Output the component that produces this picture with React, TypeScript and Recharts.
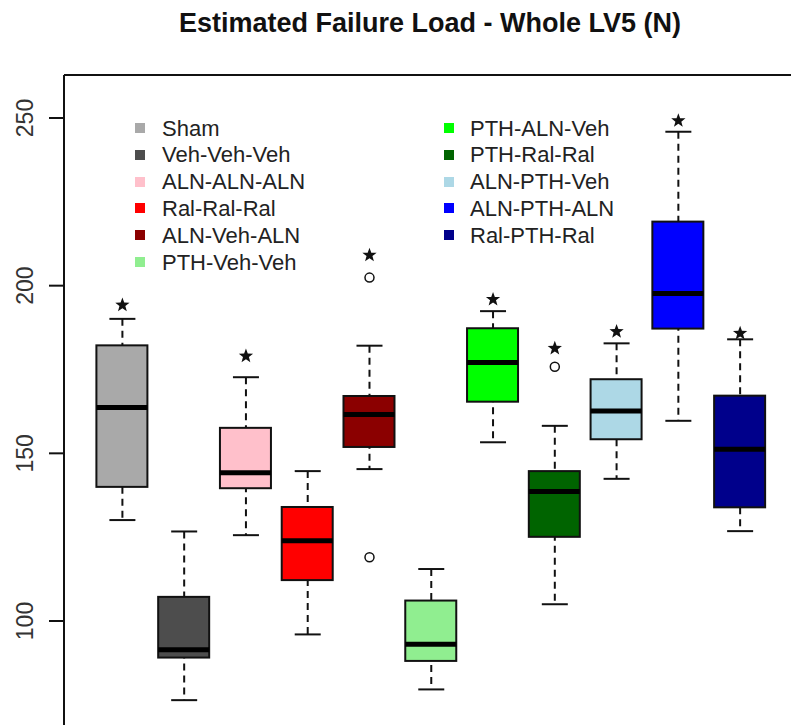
import React from 'react';
import { ComposedChart, Bar, XAxis, YAxis, ReferenceLine } from 'recharts';

// ---------- data ----------
const CATEGORIES = [
  'Sham', 'Veh-Veh-Veh', 'ALN-ALN-ALN', 'Ral-Ral-Ral', 'ALN-Veh-ALN', 'PTH-Veh-Veh',
  'PTH-ALN-Veh', 'PTH-Ral-Ral', 'ALN-PTH-Veh', 'ALN-PTH-ALN', 'Ral-PTH-Ral',
];
const LOWER_WHISKER = [130.1, 76.4, 125.6, 96.0, 145.3, 79.6, 153.3, 105.0, 142.4, 159.7, 126.8];
const Q1 = [140.0, 89.1, 139.6, 112.2, 151.9, 88.1, 165.4, 125.1, 154.2, 187.2, 133.9];
const MEDIAN = [163.7, 91.4, 144.2, 123.9, 161.6, 93.1, 177.1, 138.6, 162.6, 197.7, 151.2];
const Q3 = [182.2, 107.2, 157.6, 134.0, 167.1, 106.1, 187.3, 144.7, 172.1, 219.1, 167.2];
const UPPER_WHISKER = [190.1, 126.7, 172.7, 144.7, 182.1, 115.5, 192.4, 158.2, 182.8, 245.9, 184.0];
const UPPER_OUTLIER: (number | null)[] = [null, null, null, null, 202.4, null, null, 175.8, null, null, null];
const LOWER_OUTLIER: (number | null)[] = [null, null, null, null, 119.0, null, null, null, null, null, null];
const STAR_POSITION: (number | null)[] = [194.2, null, 179.0, null, 209.1, null, 195.9, 181.3, 186.3, 249.2, 185.8];
const Y_TICKS = [100, 150, 200, 250];
const Y_DOMAIN: [number, number] = [68.99, 262.82];
const TITLE = 'Estimated Failure Load - Whole LV5 (N)';

// ---------- style ----------
const COLORS = [
  '#A9A9A9', '#4D4D4D', '#FFC0CB', '#FF0000', '#8B0000', '#90EE90',
  '#00FF00', '#006400', '#ADD8E6', '#0000FF', '#00008B',
];
const FONT = "'Liberation Sans', Arial, Helvetica, sans-serif";
const AXIS_PAD = { left: 27.4, right: 20.1 };

const rows = CATEGORIES.map((name, i) => ({
  name,
  lo: LOWER_WHISKER[i],
  q1: Q1[i],
  med: MEDIAN[i],
  q3: Q3[i],
  hi: UPPER_WHISKER[i],
  outHi: UPPER_OUTLIER[i],
  outLo: LOWER_OUTLIER[i],
  star: STAR_POSITION[i],
}));

const ok = (v: any) => typeof v === 'number' && isFinite(v);

const WhiskerShape = (props: any) => {
  const { x, y, width, height } = props;
  if (!ok(x) || !ok(y) || !ok(height)) return <g />;
  const cx = x + width / 2;
  const top = Math.min(y, y + height);
  const bot = Math.max(y, y + height);
  return (
    <g>
      <line x1={cx} x2={cx} y1={top} y2={bot} stroke="#111" strokeWidth={2} strokeDasharray="7 5" />
      <line x1={x} x2={x + width} y1={top} y2={top} stroke="#111" strokeWidth={2} />
      <line x1={x} x2={x + width} y1={bot} y2={bot} stroke="#111" strokeWidth={2} />
    </g>
  );
};

const BoxShape = (props: any) => {
  const { x, y, width, height, payload } = props;
  if (!ok(x) || !ok(y) || !ok(height)) return <g />;
  const top = Math.min(y, y + height);
  const h = Math.abs(height);
  const idx = CATEGORIES.indexOf(payload?.name);
  return <rect x={x} y={top} width={width} height={h} fill={COLORS[idx]} stroke="#111" strokeWidth={2} />;
};

const MedianShape = (props: any) => {
  const { x, y, width } = props;
  if (!ok(x) || !ok(y)) return <g />;
  return <line x1={x} x2={x + width} y1={y} y2={y} stroke="#000" strokeWidth={5} />;
};

const OutlierShape = (key: 'outHi' | 'outLo') => (props: any) => {
  const { x, y, width, payload } = props;
  if (!payload || payload[key] == null || !ok(x) || !ok(y)) return <g />;
  return <circle cx={x + width / 2} cy={y} r={4.5} fill="#fff" stroke="#111" strokeWidth={1.5} />;
};

const StarShape = (props: any) => {
  const { x, y, width, payload } = props;
  if (!payload || payload.star == null || !ok(x) || !ok(y)) return <g />;
  const cx = x + width / 2;
  const R = 7.5, r = 3.1;
  const pts: string[] = [];
  for (let k = 0; k < 10; k++) {
    const rad = k % 2 === 0 ? R : r;
    const a = -Math.PI / 2 + (k * Math.PI) / 5;
    pts.push(`${cx + rad * Math.cos(a)},${y + rad * Math.sin(a)}`);
  }
  return <polygon points={pts.join(' ')} fill="#111" />;
};

const YTick = (props: any) => {
  const { y, payload } = props;
  return (
    <text
      x={0}
      y={0}
      transform={`translate(33,${y}) rotate(-90)`}
      textAnchor="middle"
      fontSize={23}
      fontFamily={FONT}
      fill="#333"
    >
      {payload.value}
    </text>
  );
};

const pointRange = (key: string) => (d: any) => (d[key] == null ? null : [d[key], d[key]]);

const LEGEND_ROW0 = 129;
const LEGEND_STEP = 26.8;
const legendCols = [
  { start: 0, count: 6, sq: 135, tx: 162 },
  { start: 6, count: 5, sq: 444, tx: 470 },
];

export default function App() {
  const axisIds = ['w', 'b', 'm', 'oh', 'ol', 's'];
  return (
    <div style={{ position: 'absolute', left: 0, top: 0, width: 791, height: 725, overflow: 'hidden', background: '#fff' }}>
      <ComposedChart
        width={791}
        height={725}
        data={rows}
        margin={{ top: 75, right: 0, bottom: 0, left: 0 }}
      >
        {axisIds.map((id) => (
          <XAxis key={id} xAxisId={id} type="category" dataKey="name" hide padding={AXIS_PAD} />
        ))}
        <XAxis xAxisId={0} type="category" dataKey="name" hide padding={AXIS_PAD} />
        <YAxis
          type="number"
          domain={Y_DOMAIN}
          allowDataOverflow
          ticks={Y_TICKS}
          width={64}
          tickSize={15}
          tickLine={{ stroke: '#111', strokeWidth: 2 }}
          axisLine={{ stroke: '#111', strokeWidth: 2 }}
          tick={<YTick />}
          interval={0}
        />
        <Bar xAxisId="w" dataKey={(d: any) => [d.lo, d.hi]} barSize={26} shape={WhiskerShape} isAnimationActive={false} />
        <Bar xAxisId="b" dataKey={(d: any) => [d.q1, d.q3]} barSize={51} shape={BoxShape} isAnimationActive={false} />
        <Bar xAxisId="m" dataKey={pointRange('med')} barSize={51} shape={MedianShape} isAnimationActive={false} />
        <Bar xAxisId="oh" dataKey={pointRange('outHi')} barSize={12} shape={OutlierShape('outHi')} isAnimationActive={false} />
        <Bar xAxisId="ol" dataKey={pointRange('outLo')} barSize={12} shape={OutlierShape('outLo')} isAnimationActive={false} />
        <Bar xAxisId="s" dataKey={pointRange('star')} barSize={16} shape={StarShape} isAnimationActive={false} />
        <ReferenceLine xAxisId={0} y={Y_DOMAIN[1]} stroke="#111" strokeWidth={2} />
      </ComposedChart>

      <div
        style={{
          position: 'absolute', left: 0, top: 10, width: 860, textAlign: 'center',
          fontFamily: FONT, fontWeight: 'bold', fontSize: 27, lineHeight: '27px', color: '#111',
          whiteSpace: 'nowrap',
        }}
      >
        {TITLE}
      </div>

      {legendCols.map((col) =>
        CATEGORIES.slice(col.start, col.start + col.count).map((name, j) => {
          const cy = LEGEND_ROW0 + j * LEGEND_STEP;
          const idx = col.start + j;
          return (
            <React.Fragment key={name}>
              <div style={{ position: 'absolute', left: col.sq, top: cy - 6, width: 10, height: 10, background: COLORS[idx] }} />
              <div
                style={{
                  position: 'absolute', left: col.tx, top: cy - 12.4, height: 24, lineHeight: '24px',
                  fontFamily: FONT, fontSize: 22, color: '#222', whiteSpace: 'nowrap',
                }}
              >
                {name}
              </div>
            </React.Fragment>
          );
        })
      )}
    </div>
  );
}
